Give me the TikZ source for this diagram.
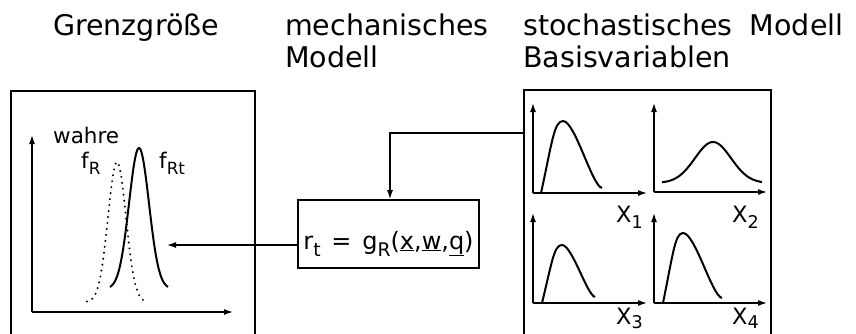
\documentclass[tikz,border=0pt]{standalone}
\usepackage{fontspec}
\setmainfont{DejaVu Sans}
\usetikzlibrary{arrows.meta}
\newcommand\mysub[1]{\raisebox{-0.3em}{\scalebox{0.78}{#1}}}
\newcommand\mysubb[1]{\raisebox{-0.2em}{\scalebox{0.78}{#1}}}
\begin{document}
\begin{tikzpicture}[x=1pt,y=-1pt,
  arr/.style={line width=1.3pt,-{Latex[length=9pt,width=6pt]}},
  frame/.style={draw,line width=1.6pt,inner sep=0pt},
  curve/.style={line width=2pt},
  dotcurve/.style={line width=2.2pt,line cap=round,dash pattern=on 0pt off 6pt},
  title/.style={anchor=base west,inner sep=0pt,font=\fontsize{28.5}{32}\selectfont},
  lab/.style={anchor=base west,inner sep=0pt,font=\fontsize{21.5}{24}\selectfont},
  xlab/.style={anchor=base west,inner sep=0pt,font=\fontsize{22.5}{26}\selectfont},
]
\useasboundingbox (0,0) rectangle (856,333);
\clip (0,0) rectangle (856,333);

% titles
\node[title] (t1) at (53,35) {Grenzgröße};
\node[title] (t2) at (285,35) {mechanisches};
\node[title] (t3) at (285,67) {Modell};
\node[title] (t4) at (523,35) {stochastisches\hspace{0.6em}Modell};
\node[title] (t5) at (523,67) {Basisvariablen};

% boxes
\node[frame, minimum width=244, minimum height=250] (lbox) at (133,216) {};
\node[frame, minimum width=247, minimum height=250] (rbox) at (647.5,215) {};
\node[draw,line width=1.6pt,inner xsep=0pt,inner ysep=4pt,minimum width=181,
      text height=45, text depth=15, font=\fontsize{24}{28}\selectfont]
  (model) at (388.5,234)
  {r\mysub{t}\hspace{0.45em}=\hspace{0.45em}g\mysub{R}(\underline{x},\underline{w},\underline{q})};

% connectors
\coordinate (ltip) at (167,245);
\draw[arr] (model.west |- ltip) -- (ltip);
\coordinate (turn) at (390,133);
\draw[arr] (rbox.west |- turn) -- (turn) -- (turn |- model.north);

% left plot
\coordinate (lo) at (32,312);
\coordinate (ly) at (32,135);
\coordinate (lx) at (233,312);
\draw[arr] (lo) -- (ly);
\draw[arr] (lo) -- (lx);
\draw[dotcurve] plot[domain=87:147,samples=80] (\x,{302-140*exp(-((\x-117)^2)/(2*81))});
\draw[curve] plot[domain=110:168,samples=80] (\x,{289-141*exp(-((\x-139)^2)/(2*100))});
\node[lab] (wahre) at (53,143) {wahre};
\node[lab] (fR) at (81,168) {f\mysub{R}};
\node[lab] (fRt) at (159,168) {f\mysub{Rt}};

% plot 1
\coordinate (o1) at (533,193);
\draw[arr] (o1) -- (533,103);
\draw[arr] (o1) -- (647,193);
\draw[curve] (541,193) .. controls (552,143) and (554,121) .. (563,121)
  .. controls (575,121) and (592,186) .. (602,188);
\node[xlab] (x1) at (616,222) {X\mysub{1}};

% plot 2
\coordinate (o2) at (654,192);
\draw[arr] (o2) -- (654,103);
\draw[arr] (o2) -- (767,192);
\draw[curve] plot[domain=662:762,samples=80] (\x,{183-41*exp(-((\x-713)^2)/(2*18^2))});
\node[xlab] (x2) at (732,222) {X\mysub{2}};

% plot 3
\coordinate (o3) at (533,303);
\draw[arr] (o3) -- (533,213);
\draw[arr] (o3) -- (647,303);
\draw[curve] (542,303) .. controls (552,262) and (554,245) .. (562,245)
  .. controls (572,245) and (587,295) .. (595,297);
\node[xlab] (x3) at (616,324) {X\mysubb{3}};

% plot 4
\coordinate (o4) at (654,303);
\draw[arr] (o4) -- (654,213);
\draw[arr] (o4) -- (767,303);
\draw[curve] (663,303) .. controls (673,254) and (675,233) .. (683,233)
  .. controls (695,233) and (712,296) .. (722,298);
\node[xlab] (x4) at (732,324) {X\mysubb{4}};
\end{tikzpicture}
\end{document}
